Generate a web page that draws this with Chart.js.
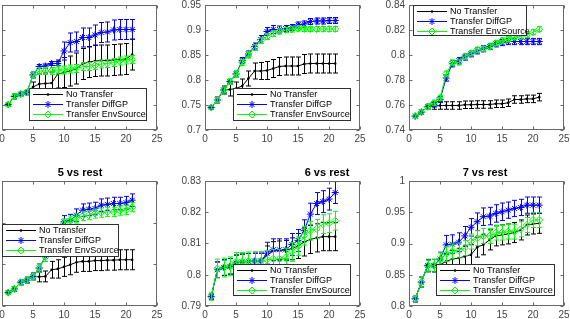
<!DOCTYPE html>
<html>
<head>
<meta charset="utf-8">
<script src="https://cdn.jsdelivr.net/npm/chart.js@4.4.0/dist/chart.umd.min.js"></script>
<style>
html,body{margin:0;padding:0;width:570px;height:319px;overflow:hidden;background:#fff;}
body{position:relative;}
canvas{position:absolute;}
.ttl{position:absolute;font:bold 11px "Liberation Sans",Arial,sans-serif;color:#000;line-height:12px;white-space:nowrap;transform:translateX(-50%);}
</style>
</head>
<body>
<canvas id="c1"></canvas><canvas id="c2"></canvas><canvas id="c3"></canvas>
<canvas id="c4"></canvas><canvas id="c5"></canvas><canvas id="c6"></canvas>
<div class="ttl" id="t4"></div><div class="ttl" id="t5"></div><div class="ttl" id="t6"></div>
<script>
// ---------------- DATA ----------------
const iterations = [1,2,3,4,5,6,7,8,9,10,11,12,13,14,15,16,17,18,19,20,21];
const seriesNames = ['No Transfer', 'Transfer DiffGP', 'Transfer EnvSource'];
const titles = ['', '', '', '5 vs rest', '6 vs rest', '7 vs rest'];
const xTicks = [0, 5, 10, 15, 20, 25];

const p1YTicks = [0.75, 0.8, 0.85, 0.9, 0.95, 1];
const p2YTicks = [0.7, 0.75, 0.8, 0.85, 0.9, 0.95];
const p3YTicks = [0.74, 0.76, 0.78, 0.8, 0.82, 0.84];
const p4YTicks = [0.7, 0.8, 0.9, 1];
const p5YTicks = [0.79, 0.8, 0.81, 0.82, 0.83];
const p6YTicks = [0.8, 0.85, 0.9, 0.95, 1];

// Plot 1
const p1NoTransfer    = [0.801,0.817,0.822,0.825,0.836,0.842,0.843,0.844,0.862,0.865,0.868,0.873,0.882,0.886,0.888,0.889,0.889,0.890,0.891,0.892,0.901];
const p1NoTransferErr = [0.003,0.004,0.004,0.005,0.010,0.020,0.021,0.022,0.028,0.030,0.030,0.031,0.031,0.031,0.031,0.031,0.031,0.031,0.031,0.031,0.031];
const p1DiffGP        = [0.801,0.817,0.822,0.825,0.860,0.877,0.878,0.883,0.883,0.908,0.925,0.927,0.935,0.935,0.940,0.945,0.946,0.950,0.951,0.951,0.951];
const p1DiffGPErr     = [0.004,0.005,0.005,0.006,0.006,0.004,0.004,0.004,0.004,0.018,0.019,0.019,0.019,0.019,0.020,0.020,0.020,0.020,0.020,0.020,0.020];
const p1EnvSource     = [0.801,0.817,0.822,0.825,0.860,0.868,0.868,0.868,0.870,0.870,0.872,0.873,0.877,0.877,0.879,0.882,0.883,0.885,0.888,0.890,0.891];
const p1EnvSourceErr  = [0.004,0.005,0.005,0.006,0.006,0.007,0.007,0.007,0.008,0.008,0.008,0.008,0.008,0.008,0.008,0.008,0.008,0.008,0.008,0.008,0.008];

// Plot 2
const p2NoTransfer    = [0.745,0.760,0.780,0.781,0.783,0.788,0.803,0.818,0.818,0.819,0.823,0.827,0.828,0.828,0.828,0.832,0.833,0.833,0.833,0.833,0.833];
const p2NoTransferErr = [0.003,0.006,0.008,0.013,0.013,0.014,0.015,0.016,0.017,0.018,0.018,0.018,0.018,0.018,0.018,0.019,0.019,0.019,0.019,0.019,0.019];
const p2DiffGP        = [0.745,0.760,0.780,0.797,0.812,0.839,0.852,0.867,0.881,0.897,0.901,0.901,0.903,0.905,0.910,0.912,0.917,0.918,0.918,0.919,0.919];
const p2DiffGPErr     = [0.003,0.005,0.006,0.006,0.006,0.006,0.006,0.007,0.008,0.008,0.008,0.007,0.006,0.006,0.006,0.006,0.006,0.006,0.006,0.006,0.006];
const p2EnvSource     = [0.745,0.760,0.780,0.797,0.812,0.835,0.850,0.865,0.879,0.887,0.893,0.897,0.900,0.901,0.903,0.902,0.902,0.902,0.902,0.902,0.902];
const p2EnvSourceErr  = [0.003,0.005,0.006,0.006,0.006,0.006,0.006,0.006,0.006,0.006,0.006,0.005,0.005,0.005,0.005,0.005,0.005,0.005,0.005,0.005,0.005];

// Plot 3
const p3NoTransfer    = [0.7511,0.7543,0.7586,0.7591,0.7596,0.7596,0.7596,0.7596,0.7602,0.7602,0.7604,0.7604,0.7604,0.7610,0.7610,0.7618,0.7644,0.7644,0.7649,0.7649,0.7663];
const p3NoTransferErr = [0.001,0.0015,0.002,0.0025,0.003,0.003,0.003,0.003,0.003,0.003,0.003,0.003,0.003,0.003,0.003,0.003,0.003,0.003,0.003,0.003,0.003];
const p3DiffGP        = [0.7511,0.7543,0.7586,0.7604,0.7644,0.7816,0.7930,0.7954,0.7984,0.8010,0.8034,0.8050,0.8068,0.8090,0.8100,0.8108,0.8108,0.8108,0.8108,0.8108,0.8108];
const p3DiffGPErr     = [0.001,0.0015,0.002,0.002,0.0025,0.0025,0.0025,0.0025,0.0025,0.0025,0.0025,0.0025,0.0025,0.0025,0.0025,0.0025,0.0025,0.0025,0.0025,0.0025,0.0025];
const p3EnvSource     = [0.7511,0.7543,0.7586,0.7618,0.7657,0.7851,0.7941,0.7941,0.7989,0.8015,0.8042,0.8050,0.8068,0.8095,0.8116,0.8127,0.8143,0.8148,0.8161,0.8182,0.8206];
const p3EnvSourceErr  = [0.001,0.0015,0.002,0.002,0.002,0.002,0.002,0.002,0.002,0.002,0.002,0.002,0.002,0.002,0.002,0.002,0.002,0.002,0.002,0.002,0.002];

// Plot 4 (5 vs rest)
const p4NoTransfer    = [0.732,0.741,0.757,0.762,0.771,0.770,0.771,0.787,0.789,0.794,0.799,0.805,0.807,0.807,0.809,0.809,0.810,0.810,0.811,0.811,0.811];
const p4NoTransferErr = [0.004,0.005,0.006,0.007,0.008,0.012,0.013,0.020,0.022,0.023,0.024,0.024,0.024,0.024,0.024,0.024,0.024,0.024,0.024,0.024,0.024];
const p4DiffGP        = [0.732,0.741,0.757,0.762,0.771,0.791,0.819,0.851,0.879,0.902,0.905,0.918,0.930,0.932,0.934,0.942,0.944,0.946,0.946,0.948,0.954];
const p4DiffGPErr     = [0.004,0.005,0.006,0.007,0.008,0.010,0.012,0.014,0.015,0.015,0.015,0.015,0.015,0.015,0.015,0.015,0.015,0.015,0.015,0.015,0.015];
const p4EnvSource     = [0.732,0.741,0.757,0.762,0.771,0.791,0.818,0.847,0.873,0.898,0.905,0.910,0.916,0.918,0.922,0.924,0.926,0.926,0.929,0.930,0.937];
const p4EnvSourceErr  = [0.004,0.005,0.006,0.007,0.008,0.010,0.011,0.011,0.011,0.011,0.011,0.011,0.011,0.011,0.011,0.011,0.011,0.011,0.011,0.011,0.011];

// Plot 5 (6 vs rest)
const p5NoTransfer    = [0.7930,0.8016,0.8023,0.8027,0.8038,0.8041,0.8043,0.8044,0.8044,0.8062,0.8076,0.8078,0.8080,0.8083,0.8092,0.8105,0.8113,0.8118,0.8122,0.8122,0.8122];
const p5NoTransferErr = [0.0008,0.0025,0.0025,0.0025,0.0025,0.0025,0.0025,0.0025,0.0025,0.003,0.003,0.003,0.003,0.0035,0.004,0.0045,0.0045,0.0045,0.0045,0.0045,0.0045];
const p5DiffGP        = [0.7930,0.8016,0.8023,0.8027,0.8038,0.8041,0.8043,0.8044,0.8044,0.8069,0.8080,0.8080,0.8080,0.8097,0.8110,0.8141,0.8194,0.8228,0.8234,0.8242,0.8263];
const p5DiffGPErr     = [0.0008,0.0025,0.0025,0.0025,0.0025,0.0025,0.0025,0.0025,0.0025,0.0035,0.0035,0.0035,0.0035,0.0035,0.0035,0.0035,0.0035,0.0035,0.0035,0.0035,0.0035];
const p5EnvSource     = [0.7930,0.8020,0.8023,0.8027,0.8041,0.8041,0.8043,0.8044,0.8044,0.8048,0.8051,0.8051,0.8055,0.8073,0.8091,0.8125,0.8141,0.8147,0.8162,0.8165,0.8173];
const p5EnvSourceErr  = [0.0012,0.003,0.003,0.003,0.003,0.003,0.003,0.003,0.003,0.003,0.003,0.003,0.003,0.003,0.003,0.003,0.003,0.003,0.003,0.003,0.003];

// Plot 6 (7 vs rest)
const p6NoTransfer    = [0.8116,0.8381,0.8646,0.8646,0.8661,0.8714,0.8751,0.8767,0.8794,0.8820,0.8942,0.8979,0.9058,0.9122,0.9138,0.9153,0.9175,0.9217,0.9296,0.9312,0.9323];
const p6NoTransferErr = [0.005,0.008,0.010,0.010,0.011,0.013,0.014,0.015,0.016,0.016,0.016,0.016,0.016,0.016,0.016,0.016,0.016,0.016,0.016,0.016,0.016];
const p6DiffGP        = [0.8116,0.8381,0.8646,0.8646,0.8751,0.8979,0.8989,0.9021,0.9122,0.9259,0.9349,0.9429,0.9439,0.9481,0.9508,0.9534,0.9561,0.9577,0.9614,0.9614,0.9614];
const p6DiffGPErr     = [0.005,0.008,0.009,0.010,0.011,0.015,0.015,0.015,0.015,0.014,0.014,0.014,0.014,0.014,0.014,0.013,0.013,0.013,0.013,0.013,0.013];
const p6EnvSource     = [0.8116,0.8381,0.8646,0.8646,0.8741,0.8831,0.8873,0.8889,0.8926,0.9032,0.9085,0.9122,0.9122,0.9175,0.9175,0.9190,0.9190,0.9228,0.9296,0.9376,0.9376];
const p6EnvSourceErr  = [0.005,0.008,0.009,0.010,0.011,0.012,0.012,0.012,0.012,0.012,0.012,0.012,0.012,0.012,0.012,0.012,0.012,0.012,0.012,0.012,0.012];

// ---------------- LAYOUT ----------------
const AXW = 40, PADT = 15, PADR = 15, AXH = 25, PW = 155, PH = 125;
const panels = [
  {id:'c1', left:2,   top:5,   yTicks:p1YTicks, series:[p1NoTransfer,p1DiffGP,p1EnvSource], errs:[p1NoTransferErr,p1DiffGPErr,p1EnvSourceErr], legend:{x:27,y:83,w:118,h:33}},
  {id:'c2', left:205, top:5,   yTicks:p2YTicks, series:[p2NoTransfer,p2DiffGP,p2EnvSource], errs:[p2NoTransferErr,p2DiffGPErr,p2EnvSourceErr], legend:{x:28,y:83,w:118,h:33}},
  {id:'c3', left:409, top:5,   yTicks:p3YTicks, series:[p3NoTransfer,p3DiffGP,p3EnvSource], errs:[p3NoTransferErr,p3DiffGPErr,p3EnvSourceErr], legend:{x:4,y:0,w:114,h:31}},
  {id:'c4', left:2,   top:181, yTicks:p4YTicks, series:[p4NoTransfer,p4DiffGP,p4EnvSource], errs:[p4NoTransferErr,p4DiffGPErr,p4EnvSourceErr], legend:{x:0,y:43,w:117,h:33}, title:{cx:80}},
  {id:'c5', left:205, top:181, yTicks:p5YTicks, series:[p5NoTransfer,p5DiffGP,p5EnvSource], errs:[p5NoTransferErr,p5DiffGPErr,p5EnvSourceErr], legend:{x:28,y:83,w:118,h:32}, title:{cx:327}},
  {id:'c6', left:409, top:181, yTicks:p6YTicks, series:[p6NoTransfer,p6DiffGP,p6EnvSource], errs:[p6NoTransferErr,p6DiffGPErr,p6EnvSourceErr], legend:{x:27,y:83,w:119,h:32}, title:{cx:485}}
];

const styles = [
  {color:'#000000', fill:'#000000', pointStyle:'circle', radius:1.3, pbw:0, order:2},
  {color:'#0000ff', fill:'#0000ff', pointStyle:'star', radius:3.5, pbw:1, order:1},
  {color:'#00ff00', fill:'rgba(0,0,0,0)', pointStyle:'rectRot', radius:3.5, pbw:1, order:0}
];

const FONT = '"Liberation Sans", Arial, Helvetica, sans-serif';

const matlabAxes = {
  id: 'matlabAxes',
  afterDatasetDraw(chart, args) {
    const ds = chart.data.datasets[args.index];
    if (!ds.errors) return;
    const ctx = chart.ctx, a = chart.chartArea, ys = chart.scales.y;
    ctx.save();
    ctx.beginPath(); ctx.rect(a.left, a.top, a.right - a.left, a.bottom - a.top); ctx.clip();
    ctx.strokeStyle = ds.borderColor; ctx.lineWidth = 1;
    ctx.beginPath();
    args.meta.data.forEach((pt, i) => {
      const v = ds.data[i].y, e = ds.errors[i];
      const x = Math.round(pt.x) + 0.5;
      const t = ys.getPixelForValue(v + e), b = ys.getPixelForValue(v - e);
      ctx.moveTo(x, t); ctx.lineTo(x, b);
      ctx.moveTo(x - 2.5, t); ctx.lineTo(x + 2.5, t);
      ctx.moveTo(x - 2.5, b); ctx.lineTo(x + 2.5, b);
    });
    ctx.stroke();
    ctx.restore();
  },
  afterDraw(chart, args, opts) {
    const ctx = chart.ctx, a = chart.chartArea, xs = chart.scales.x, ys = chart.scales.y;
    ctx.save();
    const L = Math.round(a.left) + 0.5, R = Math.round(a.right) - 0.5, T = Math.round(a.top) + 0.5, B = Math.round(a.bottom) - 0.5;
    ctx.strokeStyle = '#6a6a6a'; ctx.lineWidth = 1;
    ctx.beginPath();
    xs.ticks.forEach(t => {
      const px = Math.round(xs.getPixelForValue(t.value)) + 0.5;
      ctx.moveTo(px, B); ctx.lineTo(px, B - 3);
      ctx.moveTo(px, T); ctx.lineTo(px, T + 3);
    });
    ys.ticks.forEach(t => {
      const py = Math.round(ys.getPixelForValue(t.value)) + 0.5;
      ctx.moveTo(L, py); ctx.lineTo(L + 3, py);
      ctx.moveTo(R, py); ctx.lineTo(R - 3, py);
    });
    ctx.stroke();
    ctx.strokeRect(L, T, R - L, B - T);
    const lg = opts.legend;
    if (lg) {
      const lx = Math.round(a.left + lg.x), ly = Math.round(a.top + lg.y);
      ctx.fillStyle = '#ffffff';
      ctx.fillRect(lx, ly, lg.w, lg.h);
      ctx.strokeStyle = '#303030';
      ctx.strokeRect(lx + 0.5, ly + 0.5, lg.w - 1, lg.h - 1);
      chart.data.datasets.forEach((ds, i) => {
        const cy = ly + 6.5 + i * 10;
        ctx.strokeStyle = ds.borderColor; ctx.lineWidth = 1;
        ctx.beginPath(); ctx.moveTo(lx + 4, cy); ctx.lineTo(lx + 34, cy); ctx.stroke();
        ctx.fillStyle = ds.pointBackgroundColor;
        Chart.helpers.drawPoint(ctx, {pointStyle: ds.pointStyle, radius: ds.pointRadius, rotation: 0, borderWidth: ds.pointBorderWidth}, lx + 19, cy);
        ctx.fillStyle = '#000000';
        ctx.font = '9px ' + FONT;
        ctx.textAlign = 'left'; ctx.textBaseline = 'middle';
        ctx.fillText(ds.label, lx + 37, cy + 0.5);
      });
    }
    ctx.restore();
  }
};

panels.forEach((p, k) => {
  const cv = document.getElementById(p.id);
  const W = AXW + PW + PADR, H = PADT + PH + AXH;
  cv.width = W; cv.height = H;
  cv.style.width = W + 'px'; cv.style.height = H + 'px';
  cv.style.left = (p.left - AXW) + 'px';
  cv.style.top = (p.top - PADT) + 'px';
  const datasets = p.series.map((vals, i) => ({
    label: seriesNames[i],
    data: iterations.map((x, j) => ({x: x, y: vals[j]})),
    errors: p.errs[i],
    borderColor: styles[i].color,
    backgroundColor: styles[i].fill,
    pointBackgroundColor: styles[i].fill,
    pointBorderColor: styles[i].color,
    borderWidth: 1,
    pointStyle: styles[i].pointStyle,
    pointRadius: styles[i].radius,
    pointBorderWidth: styles[i].pbw,
    pointHoverRadius: styles[i].radius,
    fill: false,
    tension: 0,
    order: styles[i].order
  }));
  const yT = p.yTicks;
  new Chart(cv, {
    type: 'line',
    data: {datasets},
    options: {
      responsive: false,
      animation: false,
      devicePixelRatio: 1,
      events: [],
      layout: {padding: {left: 0, top: PADT, right: PADR, bottom: 0}},
      plugins: {
        legend: {display: false},
        tooltip: {enabled: false},
        title: {display: false},
        matlabAxes: {legend: p.legend}
      },
      scales: {
        x: {
          type: 'linear', min: 0, max: 25,
          afterBuildTicks: s => { s.ticks = xTicks.map(v => ({value: v})); },
          afterFit: s => { s.height = AXH; },
          grid: {display: false, drawTicks: false},
          border: {display: false},
          ticks: {font: {family: FONT, size: 10}, color: '#444444', padding: 3, maxRotation: 0, autoSkip: false, callback: v => String(v)}
        },
        y: {
          type: 'linear', min: yT[0], max: yT[yT.length - 1],
          afterBuildTicks: s => { s.ticks = yT.map(v => ({value: v})); },
          afterFit: s => { s.width = AXW; },
          grid: {display: false, drawTicks: false},
          border: {display: false},
          ticks: {font: {family: FONT, size: 10}, color: '#444444', padding: 4, autoSkip: false, callback: v => String(v)}
        }
      }
    },
    plugins: [matlabAxes]
  });
  if (titles[k]) {
    const t = document.getElementById('t' + (k + 1));
    t.textContent = titles[k];
    t.style.left = p.title.cx + 'px';
    t.style.top = (p.top - 15) + 'px';
  }
});
</script>
</body>
</html>
